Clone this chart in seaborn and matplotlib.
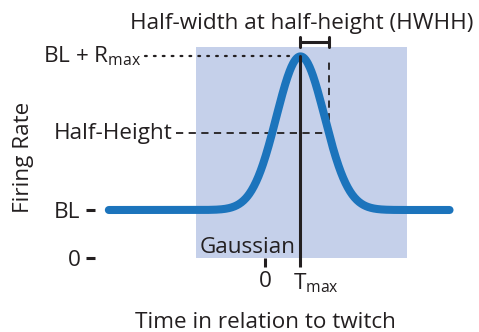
import numpy as np
import pandas as pd
import matplotlib
matplotlib.use("Agg")
import matplotlib.pyplot as plt
from matplotlib.patches import Rectangle
from matplotlib.transforms import ScaledTranslation
import seaborn as sns

# Gaussian tuning model parameters (arbitrary schematic units)
baseline = 1.0          # BL
r_max = 3.2             # R_max
t_max = 1.0             # time of peak
hwhh = 0.8              # half-width at half-height
time_range = [-4.4, 5.2]
window = [-1.95, 4.0]   # shaded analysis window
window_top = 4.4

y_tick_values = [0.0, baseline]
y_tick_labels = ["0", "BL"]
x_tick_values = [0.0, t_max]
x_tick_labels = ["0", r"T$_{\mathrm{max}}$"]

sigma = hwhh / np.sqrt(2 * np.log(2))
t = np.linspace(time_range[0], time_range[1], 600)
curve = pd.DataFrame({
    "time": t,
    "rate": baseline + r_max * np.exp(-((t - t_max) ** 2) / (2 * sigma ** 2)),
})
half_height = baseline + r_max / 2
peak = baseline + r_max

sns.set_style("white")
FONT = "Open Sans"
plt.rcParams["font.family"] = [FONT, "DejaVu Sans"]
plt.rcParams["mathtext.fontset"] = "custom"
plt.rcParams["mathtext.rm"] = FONT
plt.rcParams["mathtext.it"] = FONT + ":italic"
plt.rcParams["mathtext.bf"] = FONT + ":bold"

INK = "#231f20"
BLUE = "#1c74bc"
SHADE = "#c5d0ea"
FS = 16.2

W, H = 479, 332
fig = plt.figure(figsize=(W / 100, H / 100), dpi=100)
ax = fig.add_axes([95 / W, (H - 258) / H, (W - 95) / W, 238 / H])
ax.set_xlim(-4.79, 6.03)
ax.set_ylim(0, 4.958)

ax.add_patch(Rectangle((window[0], 0), window[1] - window[0], window_top,
                       facecolor=SHADE, edgecolor="none", zorder=0))

sns.lineplot(data=curve, x="time", y="rate", ax=ax, color=BLUE, lw=5.8,
             solid_capstyle="round", zorder=3)

# peak marker line
ax.plot([t_max, t_max], [0, peak], color=INK, lw=2.2, zorder=4, clip_on=False)

# reference lines
ax.plot([-3.39, t_max], [peak, peak], color=INK, lw=1.6,
        ls=(0, (0.8, 3.2)), dash_capstyle="round", zorder=2, clip_on=False)
ax.plot([-2.5, t_max + hwhh], [half_height, half_height], color=INK, lw=1.3,
        ls=(0, (4, 3)), zorder=2, clip_on=False)
ax.plot([t_max + hwhh, t_max + hwhh], [half_height, peak - 0.03], color=INK,
        lw=1.3, ls=(0, (4, 3)), zorder=2, clip_on=False)

# HWHH bracket
yb = (258 - 42) / 48
cap = 5 / 48
ax.plot([t_max, t_max + hwhh], [yb, yb], color=INK, lw=2.2, clip_on=False)
for xx in (t_max, t_max + hwhh):
    ax.plot([xx, xx], [yb - cap, yb + cap], color=INK, lw=2.2, clip_on=False)

ax.text(1.03, (258 - 29) / 48, "Half-width at half-height (HWHH)",
        ha="center", va="baseline", fontsize=FS, color=INK)
ax.text(-3.48, peak, r"BL + R$_{\mathrm{max}}$", ha="right", va="center",
        fontsize=FS, color=INK)
ax.text(-2.6, half_height, "Half-Height", ha="right", va="center",
        fontsize=FS, color=INK)
ax.text(-1.83, (258 - 253) / 48, "Gaussian", ha="left", va="baseline",
        fontsize=FS, color=INK)

for s in ax.spines.values():
    s.set_visible(False)

ax.set_yticks(y_tick_values)
ax.set_yticklabels(y_tick_labels)
ax.set_xticks(x_tick_values)
ax.set_xticklabels(x_tick_labels)
ax.tick_params(axis="both", length=6.5, width=2.2, color=INK, labelcolor=INK,
               labelsize=FS, pad=4, left=True, bottom=True)
ax.tick_params(axis="x", pad=3)
# place the subscripted label so the T sits on its tick
lbls = ax.get_xticklabels()
lbls[1].set_transform(lbls[1].get_transform() +
                      ScaledTranslation(15 / 100, 0, fig.dpi_scale_trans))

fig.text(24 / W, 1 - 157 / H, "Firing Rate", rotation=90, ha="center",
         va="center", fontsize=FS, color=INK)
fig.text(265 / W, 1 - 328 / H, "Time in relation to twitch", ha="center",
         va="baseline", fontsize=FS, color=INK)

ax.set_xlabel("")
ax.set_ylabel("")
fig.savefig("out.png", dpi=100)
